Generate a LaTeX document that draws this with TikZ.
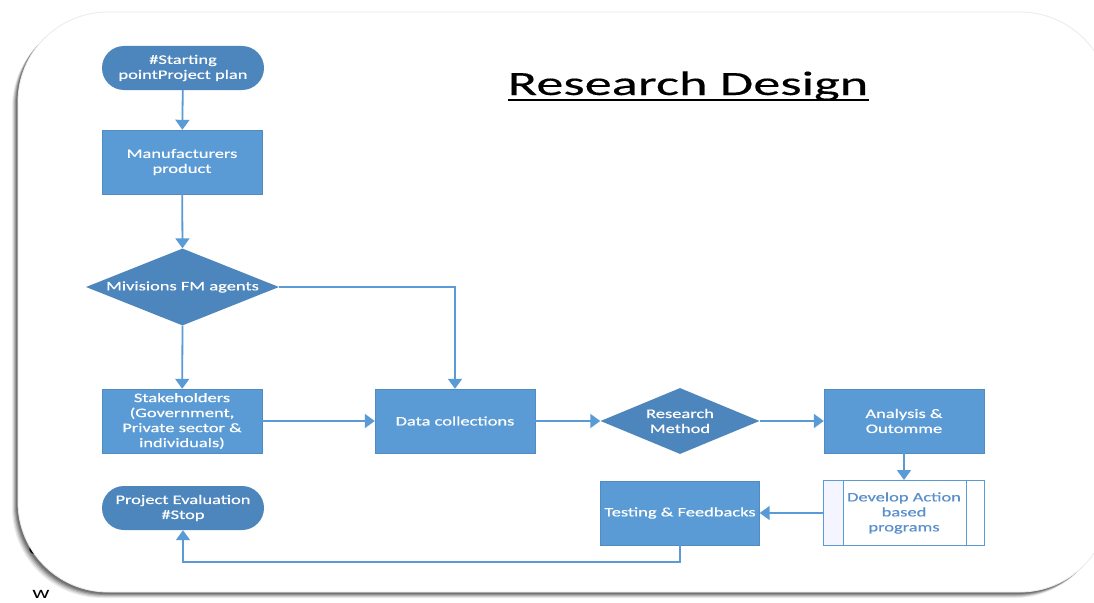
\documentclass[tikz,border=0pt]{standalone}
\usepackage{fontspec}
\setmainfont{Carlito}[FakeStretch=1.42]
\newfontfamily\boxfont{Carlito}[FakeStretch=1.42,FakeBold=0.5]
\newfontfamily\titlefont{Carlito}[FakeStretch=1.6,FakeBold=0.3]
\usetikzlibrary{shapes.geometric,shapes.misc,arrows.meta,calc}
\definecolor{boxblue}{HTML}{5B9BD5}
\definecolor{darkblue}{HTML}{4D86BD}
\definecolor{lineblue}{HTML}{5B9BD5}
\definecolor{devtext}{HTML}{5A8FCC}
\tikzset{
  txt/.style={font=\boxfont\fontsize{13}{15}\selectfont, text=white, align=center},
  terminal/.style={rounded rectangle, fill=darkblue, minimum width=162pt, minimum height=44pt, inner sep=0pt, txt},
  process/.style={rectangle, fill=boxblue, draw=boxblue!90!black, line width=0.4pt, minimum width=160pt, minimum height=64pt, inner sep=0pt, txt},
  decision/.style={diamond, fill=darkblue, inner sep=0pt, shape aspect=2},
  conn/.style={draw=lineblue, line width=1.8pt, -{Triangle[length=10pt,width=14pt]}},
}
\begin{document}
\begin{tikzpicture}[x=1pt,y=-1pt]
\useasboundingbox (0,0) rectangle (1094,602);
\fill[white] (0,0) rectangle (1094,602);
% stray text behind frame
\node[font=\fontsize{16}{18}\selectfont, text=black, anchor=center] (strayc) at (35,549) {C};
\node[font=\fontsize{17}{19}\selectfont, text=black, anchor=center] (strayw) at (41,594) {w};
% frame shadow
\foreach \o/\op in {6/0.08,5/0.10,4/0.14,3/0.18,2/0.22}{
  \fill[black,opacity=\op,rounded corners=90pt] (18-\o,12+\o) rectangle (1110-\o,592+\o);
}
\fill[white,rounded corners=90pt] (18,12) rectangle (1110,592);
\draw[black!8,line width=0.8pt,rounded corners=90pt] (18,12) rectangle (1110,592);
% title
\node[font=\titlefont\fontsize{34}{38}\selectfont, text=black, anchor=base, inner sep=0pt] (title) at (688,95) {Research Design};
\draw[black, line width=1.8pt] ($(title.base west)+(0,5)$) -- ($(title.base east)+(0,5)$);
% nodes
\node[terminal] (start) at (183,68) {\#Starting\\pointProject plan};
\node[process] (manu) at (182,162) {Manufacturers\\product};
\node[decision, minimum width=193pt, minimum height=77pt, label={[txt]center:Mivisions FM agents}] (mfm) at (182.5,287) {};
\node[process] (stake) at (182,421) {Stakeholders\\(Government,\\Private sector \&\\individuals)};
\node[process] (data) at (455,421) {Data collections};
\node[decision, minimum width=159pt, minimum height=66pt, label={[txt]center:Research\\Method}] (rm) at (680,421) {};
\node[process] (ana) at (904,421) {Analysis \&\\Outomme};
\node[rectangle, draw=lineblue, line width=1pt, fill=white, minimum width=161pt, minimum height=65pt, inner sep=0pt, font=\boxfont\fontsize{13}{15}\selectfont, text=devtext, align=center] (dev) at (904,513) {Develop Action\\based\\programs};
\fill[blue!4] ([xshift=0.6pt,yshift=-0.6pt]dev.north west) rectangle ([xshift=20pt,yshift=0.6pt]dev.south west);
\draw[lineblue, line width=1pt] ([xshift=20pt]dev.north west) -- ([xshift=20pt]dev.south west);
\draw[lineblue, line width=1pt] ([xshift=-19pt]dev.north east) -- ([xshift=-19pt]dev.south east);
\node[process, minimum width=159pt] (test) at (680,513) {Testing \& Feedbacks};
\node[terminal] (stop) at (183,508) {Project Evaluation\\\#Stop};
% connectors
\draw[conn] (start) -- (manu);
\draw[conn] (manu) -- (mfm.north);
\draw[conn] (mfm.south) -- (stake);
\draw[conn] (mfm.east) -| (data.north);
\draw[conn] (stake) -- (data);
\draw[conn] (data) -- (rm.west);
\draw[conn] (rm.east) -- (ana);
\draw[conn] (ana) -- (dev);
\draw[conn] (dev) -- (test);
\coordinate (bend) at ($(test.south)+(0,17)$);
\draw[conn] (test.south) -- (bend) -| (stop.south);
\end{tikzpicture}
\end{document}
